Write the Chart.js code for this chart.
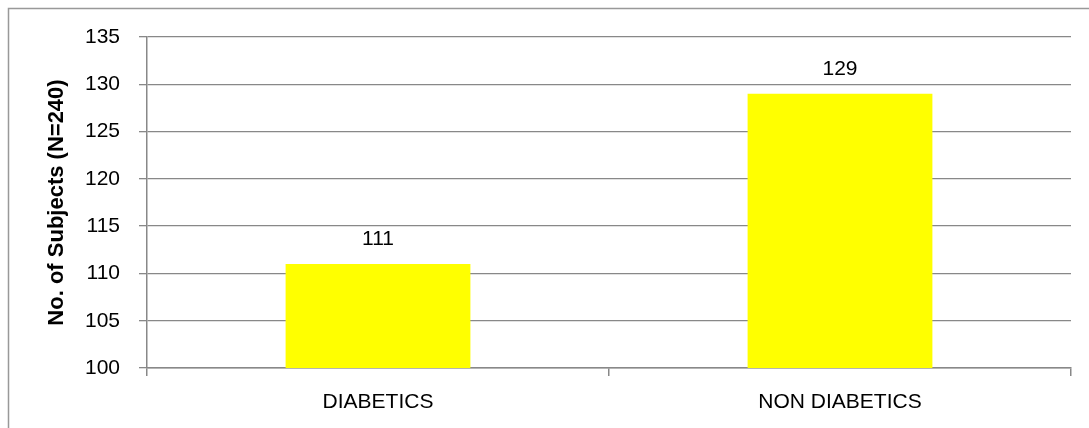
<!DOCTYPE html>
<html>
<head>
<meta charset="utf-8">
<script src="https://cdn.jsdelivr.net/npm/chart.js@4.4.0/dist/chart.umd.min.js"></script>
<style>
html,body{margin:0;padding:0;background:#fff;}
#wrap{width:1089px;height:428px;}
</style>
</head>
<body>
<div id="wrap"><canvas id="c" width="1089" height="428"></canvas></div>
<script>
// data
const categories=["DIABETICS","NON DIABETICS"];
const subjects=[111,129];
const yMin=100, yMax=135, yStep=5;
const yTitle="No. of Subjects (N=240)";

const FONT="'Liberation Sans', Arial, sans-serif";

// frame around the whole chart (left + top edge visible)
const frame={
    id:"frame",
    beforeDraw(chart){
        const ctx=chart.ctx;
        ctx.save();
        ctx.strokeStyle="#999";
        ctx.lineWidth=1.5;
        ctx.beginPath();
        ctx.moveTo(8.5,chart.height);
        ctx.lineTo(8.5,8.5);
        ctx.lineTo(chart.width,8.5);
        ctx.stroke();
        ctx.restore();
    }
};

// value labels above the bars
const barValues={
    id:"barValues",
    afterDatasetsDraw(chart){
        const ctx=chart.ctx;
        ctx.save();
        ctx.font="21px "+FONT;
        ctx.fillStyle="#000";
        ctx.textAlign="center";
        ctx.textBaseline="bottom";
        chart.getDatasetMeta(0).data.forEach((bar,i)=>{
            ctx.fillText(subjects[i],bar.x,bar.y-14);
        });
        ctx.restore();
    }
};

new Chart(document.getElementById("c"),{
    type:"bar",
    data:{
        labels:categories,
        datasets:[{
            data:subjects,
            backgroundColor:"#ffff00",
            borderWidth:0,
            barPercentage:0.4,
            categoryPercentage:1
        }]
    },
    options:{
        responsive:false,
        animation:false,
        layout:{padding:{left:40,right:18,top:37,bottom:0}},
        plugins:{legend:{display:false},tooltip:{enabled:false}},
        scales:{
            x:{
                grid:{drawOnChartArea:false,drawTicks:true,tickLength:8,offset:true,color:"#888",lineWidth:1.5},
                border:{color:"#888",width:1.5},
                ticks:{color:"#000",font:{family:FONT,size:21},padding:14},
                afterFit(s){s.height=60;}
            },
            y:{
                min:yMin,max:yMax,
                grid:{color:"#888",lineWidth:1.3,tickLength:8},
                border:{color:"#888",width:1.5},
                ticks:{stepSize:yStep,color:"#000",font:{family:FONT,size:21},padding:19},
                title:{display:true,text:yTitle,color:"#000",font:{family:FONT,size:22,weight:"bold"},padding:{top:4,bottom:0}},
                afterFit(s){s.width=107;}
            }
        }
    },
    plugins:[frame,barValues]
});
</script>
</body>
</html>
